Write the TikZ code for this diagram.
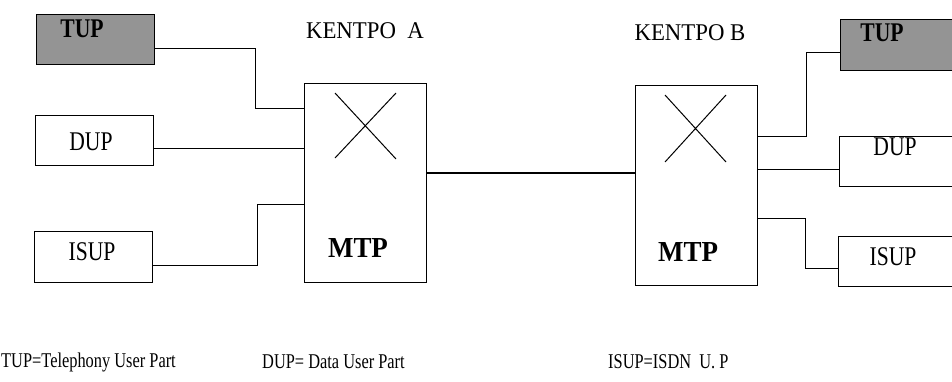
\documentclass[tikz,border=0pt]{standalone}
\usepackage{fontspec}
\setmainfont{Liberation Serif}
\newcommand\sqz[2]{\scalebox{#1}[1]{#2}}
\tikzset{
  unitbox/.style={draw, line width=0.9pt, minimum width=118pt, minimum height=50pt, inner sep=0pt},
  shadedbox/.style={unitbox, fill=black!42},
  mtpbox/.style={draw, line width=0.9pt, minimum width=122pt, minimum height=199pt, inner sep=0pt},
  boxtext/.style={inner sep=0pt, font=\fontsize{27}{30}\selectfont},
  headtext/.style={inner sep=0pt, font=\fontsize{24}{28}\selectfont},
  mtptext/.style={inner sep=0pt, font=\fontsize{29}{32}\selectfont\bfseries},
  legtext/.style={inner sep=0pt, anchor=west, font=\fontsize{21}{24}\selectfont},
  wire/.style={line width=0.9pt},
  trunk/.style={line width=2pt},
  cross/.style={line width=1pt}
}
\begin{document}
\begin{tikzpicture}[x=1pt, y=-1pt]
\clip (0,0) rectangle (952,381);
\fill[white] (0,0) rectangle (952,381);

% exchange A side
\node[shadedbox] (tupA) at (95,39) {};
\node[unitbox] (dupA) at (94,140) {};
\node[unitbox, minimum height=51pt] (isupA) at (93,256.5) {};
\node[mtpbox] (mtpA) at (365,182.5) {};
\node[headtext] (kentA) at (365,31) {\sqz{0.95}{KENTPO~ A}};
\node[boxtext] (tupAt) at (82,29) {\sqz{0.8}{\textbf{TUP}}};
\node[boxtext] (dupAt) at (91,142) {\sqz{0.8}{DUP}};
\node[boxtext] (isupAt) at (92,252) {\sqz{0.8}{ISUP}};
\node[mtptext] (mtpAt) at (358,248) {\sqz{0.93}{MTP}};
\coordinate (xa1) at (335,93);
\coordinate (xa2) at (396,159);
\coordinate (xa3) at (396,93);
\coordinate (xa4) at (335,158);
\draw[cross] (xa1) -- (xa2) (xa3) -- (xa4);

% exchange B side
\node[mtpbox, minimum height=200pt] (mtpB) at (696,185) {};
\node[shadedbox, minimum height=51pt] (tupB) at (899,44.5) {};
\node[unitbox] (dupB) at (898,161) {};
\node[unitbox] (isupB) at (897,261) {};
\node[headtext] (kentB) at (690,33) {\sqz{0.95}{KENTPO B}};
\node[boxtext] (tupBt) at (882,33) {\sqz{0.8}{\textbf{TUP}}};
\node[boxtext] (dupBt) at (895,147) {\sqz{0.8}{DUP}};
\node[boxtext] (isupBt) at (893,257) {\sqz{0.8}{ISUP}};
\node[mtptext] (mtpBt) at (688,252) {\sqz{0.93}{MTP}};
\coordinate (xb1) at (665,95);
\coordinate (xb2) at (726,162);
\coordinate (xb3) at (726,95);
\coordinate (xb4) at (665,162);
\draw[cross] (xb1) -- (xb2) (xb3) -- (xb4);

% user part links, side A
\draw[wire] (tupA.east |- 0,48) -- (255,48) |- (mtpA.west |- 0,108);
\draw[wire] (dupA.east |- 0,148) -- (mtpA.west |- 0,148);
\draw[wire] (isupA.east |- 0,265) -| (257,204) -- (mtpA.west |- 0,204);

% signalling link between the exchanges
\draw[trunk] (mtpA.east |- 0,173) -- (mtpB.west |- 0,173);

% user part links, side B
\draw[wire] (mtpB.east |- 0,136) -| (806,52) -- (tupB.west |- 0,52);
\draw[wire] (mtpB.east |- 0,169) -- (dupB.west |- 0,169);
\draw[wire] (mtpB.east |- 0,218) -| (805,268) -- (isupB.west |- 0,268);

% legend
\node[legtext] (legT) at (1,362) {\sqz{0.78}{TUP=Telephony User Part}};
\node[legtext] (legD) at (262,362) {\sqz{0.78}{DUP= Data User Part}};
\node[legtext] (legI) at (608,362) {\sqz{0.78}{ISUP=ISDN~ U.~P}};
\end{tikzpicture}
\end{document}
